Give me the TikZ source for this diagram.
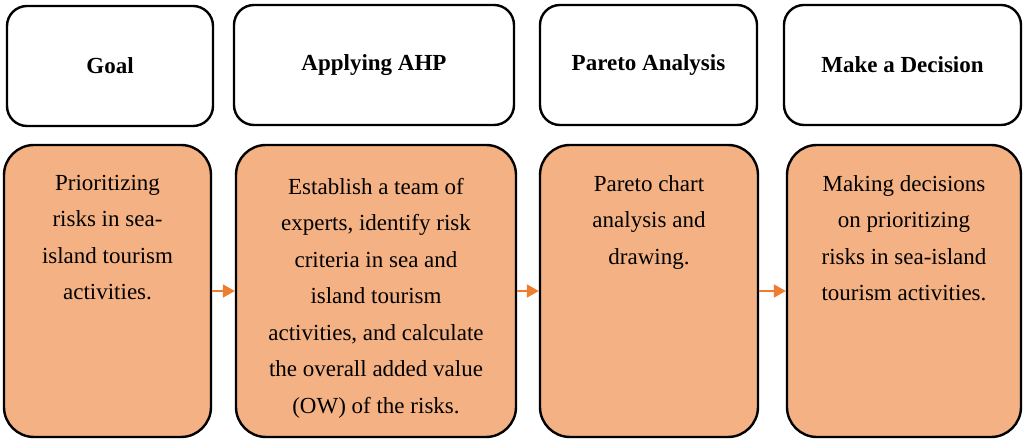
\documentclass[tikz,border=0pt]{standalone}
\usepackage{fontspec}
\setmainfont{Liberation Serif}
\usetikzlibrary{arrows.meta,positioning}
\definecolor{StepClr}{RGB}{244,177,131}
\definecolor{ArrowClr}{RGB}{237,125,49}

\begin{document}
\begin{tikzpicture}[x=0.5pt,y=-0.5pt,
  head/.style={draw=black,line width=1.2pt,rounded corners=10pt,minimum height=60pt,
    inner sep=0pt,font=\fontsize{11.5pt}{14pt}\selectfont\bfseries},
  body/.style={draw=black,line width=1.2pt,rounded corners=15pt,fill=StepClr,
    minimum height=146pt,inner sep=0pt},
  txt/.style={inner sep=0pt,align=center,font=\fontsize{11.5pt}{18.25pt}\selectfont},
  flow/.style={draw=ArrowClr,line width=1pt,-{Triangle[length=6pt,width=6.5pt]}}]
\useasboundingbox (0,0) rectangle (1025,442);

% headings
\node[head,minimum width=103pt]   (goal)     at (110,66)   {Goal};
\node[head,minimum width=140pt]   (ahp)      at (374,65)   {Applying AHP};
\node[head,minimum width=108.5pt] (pareto)   at (648.5,65) {Pareto Analysis};
\node[head,minimum width=118.5pt] (decision) at (902.5,65) {Make a Decision};

% steps
\node[body,minimum width=103.5pt] (goalbody)     at (107.5,291) {};
\node[body,minimum width=140pt]   (ahpbody)      at (376,291)   {};
\node[body,minimum width=109pt]   (paretobody)   at (649,291)   {};
\node[body,minimum width=117pt]   (decisionbody) at (904,291)   {};

\node[txt,below=15.5pt of goalbody.north] (goaltxt)
  {Prioritizing\\risks in sea-\\island tourism\\activities.};
\node[txt,below=17pt of ahpbody.north] (ahptxt)
  {Establish a team of\\experts, identify risk\\criteria in sea and\\island tourism\\activities, and calculate\\the overall added value\\(OW) of the risks.};
\node[txt,below=15.5pt of paretobody.north] (paretotxt)
  {Pareto chart\\analysis and\\drawing.};
\node[txt,below=15.5pt of decisionbody.north] (decisiontxt)
  {Making decisions\\on prioritizing\\risks in sea-island\\tourism activities.};

\draw[flow] (goalbody) -- (ahpbody);
\draw[flow] (ahpbody) -- (paretobody);
\draw[flow] (paretobody) -- (decisionbody);

\end{tikzpicture}
\end{document}
